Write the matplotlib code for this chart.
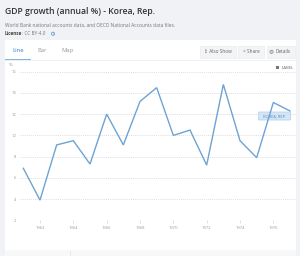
import matplotlib
matplotlib.use("Agg")
import matplotlib.pyplot as plt
from matplotlib.patches import Rectangle, FancyBboxPatch

years = [1961, 1962, 1963, 1964, 1965, 1966, 1967, 1968, 1969, 1970,
         1971, 1972, 1973, 1974, 1975, 1976, 1977]
growth = [6.9, 3.9, 9.1, 9.5, 7.3, 12.0, 9.1, 13.2, 14.5, 10.0,
          10.5, 7.2, 14.8, 9.5, 7.9, 13.1, 12.3]
yticks = [2, 4, 6, 8, 10, 12, 14, 16]
xticks = [1962, 1964, 1966, 1968, 1970, 1972, 1974, 1976]

W, H = 300, 256
plt.rcParams['font.family'] = ['Open Sans', 'DejaVu Sans']
fig = plt.figure(figsize=(W/100, H/100), dpi=100)
fig.patch.set_facecolor('#f1f2f5')

bg = fig.add_axes([0, 0, 1, 1])
bg.set_xlim(0, W)
bg.set_ylim(H, 0)
bg.axis('off')

# card
bg.add_patch(Rectangle((5, 40), 291, 210, facecolor='white', edgecolor='none'))
bg.add_patch(Rectangle((5, 250), 291, 6, facecolor='#f7f8fa', edgecolor='none'))
bg.plot([70, 70], [251, 256], color='#e3e5ea', lw=0.6)
bg.plot([5, 296], [60, 60], color='#eceef2', lw=0.6)

bg.text(5, 11, "GDP growth (annual %) - Korea, Rep.", fontsize=6.2, color='#333333',
        va='center', ha='left', fontweight='semibold')
bg.text(5, 25.3, "World Bank national accounts data, and OECD National Accounts data files.",
        fontsize=3.5, color='#777777', va='center', ha='left')
bg.text(5, 33.7, "License", fontsize=3.3, color='#444444', va='center', ha='left', fontweight='bold')
bg.text(22, 33.7, ": CC BY-4.0", fontsize=3.3, color='#777777', va='center', ha='left')
bg.add_patch(plt.Circle((53, 33.7), 1.6, fill=False, edgecolor='#4a90d0', lw=0.5))
bg.text(53, 33.9, "i", fontsize=2.4, color='#4a90d0', va='center', ha='center')

# tabs
bg.text(18.5, 50.7, "Line", fontsize=4.2, color='#2a7bc8', va='center', ha='center')
bg.text(42, 50.7, "Bar", fontsize=4.2, color='#999999', va='center', ha='center')
bg.text(67.5, 50.7, "Map", fontsize=4.2, color='#999999', va='center', ha='center')
bg.add_patch(Rectangle((5, 59), 26, 1.3, facecolor='#7fb3e0', edgecolor='none'))

# buttons
for x0, x1, lab in [(200, 236, "\u2195 Also Show"), (238, 264, "< Share"), (267, 295, "Details")]:
    bg.add_patch(Rectangle((x0, 46), x1 - x0, 11.5, facecolor='#f3f4f6', edgecolor='#e6e8ec', lw=0.4))
    off = 2.5 if lab == "Details" else 0
    bg.text((x0 + x1) / 2 + off, 51.8, lab, fontsize=3.4, color='#666666', va='center', ha='center')
bg.add_patch(plt.Circle((271.5, 51.8), 1.6, fill=False, edgecolor='#666666', lw=0.4))
bg.text(271.5, 52.0, "i", fontsize=2.4, color='#666666', va='center', ha='center')

# label checkbox
bg.add_patch(Rectangle((275.5, 66), 3.2, 3.2, facecolor='#777777', edgecolor='none'))
bg.text(281.5, 67.7, "LABEL", fontsize=3.2, color='#666666', va='center', ha='left')
bg.text(11, 65.3, "%", fontsize=3.2, color='#888888', va='center', ha='center')

# plot axes
left, right, top, bottom = 20, 296, 71.7, 220.3
ax = fig.add_axes([left/W, 1 - bottom/H, (right-left)/W, (bottom-top)/H])
ax.set_facecolor('none')
ax.plot(years, growth, color='#6ea3d4', lw=1.0, clip_on=False, solid_joinstyle='miter')
ax.set_xlim(1960.8, 1977.36)
ax.set_ylim(2, 16)
ax.set_yticks(yticks)
ax.set_xticks(xticks)
ax.set_yticklabels([str(v) for v in yticks])
ax.set_xticklabels([str(v) for v in xticks])
ax.grid(axis='y', color='#cfd2d6', lw=0.5, ls=(0, (1.5, 1.5)))
for s in ax.spines.values():
    s.set_visible(False)
ax.tick_params(axis='y', length=0, pad=2.5, labelsize=3.0, labelcolor='#999999')
ax.tick_params(axis='x', length=2, width=0.4, color='#cccccc', pad=2, labelsize=3.0, labelcolor='#999999')

# series label
bg.add_patch(FancyBboxPatch((258.5, 112), 32, 8, boxstyle='round,pad=0,rounding_size=1',
                            facecolor='#d6e7f6', edgecolor='#a9cdec', lw=0.5))
bg.text(274.5, 116, "KOREA, REP.", fontsize=2.9, color='#4a86c2', va='center', ha='center')

fig.savefig('out.png', dpi=100, facecolor=fig.get_facecolor())
